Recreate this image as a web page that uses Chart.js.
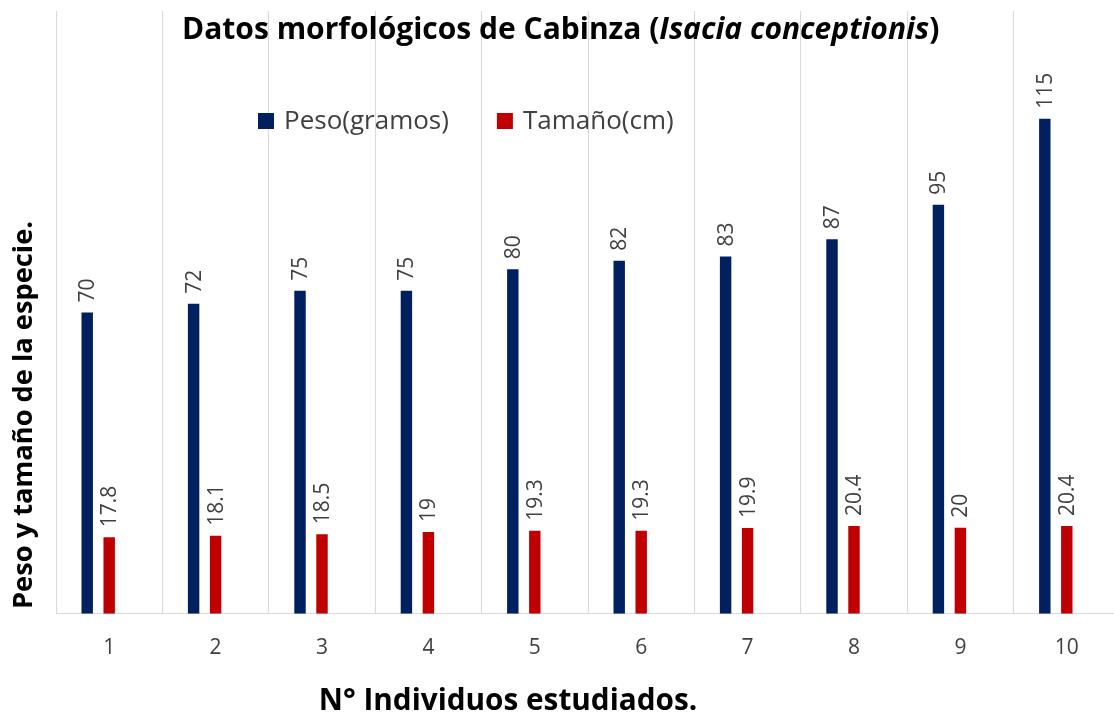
<!DOCTYPE html>
<html><head><meta charset="utf-8">
<script src="https://cdn.jsdelivr.net/npm/chart.js@4/dist/chart.umd.min.js"></script>
<style>html,body{margin:0;padding:0;overflow:hidden;background:#fff}#wrap{width:1120px;height:720px;position:relative}</style>
</head><body><div id="wrap"><canvas id="c" width="1120" height="720"></canvas></div>
<script>
// ---- data ----
const categories = ['1','2','3','4','5','6','7','8','9','10'];
const pesoGramos = [70, 72, 75, 75, 80, 82, 83, 87, 95, 115];
const tamanoCm = [17.8, 18.1, 18.5, 19, 19.3, 19.3, 19.9, 20.4, 20, 20.4];
const seriesNames = ['Peso(gramos)', 'Tamaño(cm)'];
const titleParts = [
  {text: 'Datos morfológicos de Cabinza (', style: 'bold'},
  {text: 'Isacia conceptionis', style: 'italic bold'},
  {text: ')', style: 'bold'}
];
const yTitle = 'Peso y tamaño de la especie.';
const xTitle = 'N° Individuos estudiados.';

const FAMILY = '"Open Sans", "DejaVu Sans", sans-serif';
const colors = ['#002060', '#C00000'];

function widthOf(ctx, parts, size) {
  let w = 0;
  for (const p of parts) { ctx.font = p.style + ' ' + size + 'px ' + FAMILY; w += ctx.measureText(p.text).width; }
  return w;
}
function fitSize(ctx, parts, target) {
  for (let s = 40; s > 6; s -= 0.25) { if (widthOf(ctx, parts, s) <= target) return s; }
  return 6;
}
function drawParts(ctx, parts, size, x, y) {
  for (const p of parts) {
    ctx.font = p.style + ' ' + size + 'px ' + FAMILY;
    ctx.fillText(p.text, x, y);
    x += ctx.measureText(p.text).width;
  }
}

const overlay = {
  id: 'overlay',
  afterDatasetsDraw(chart) {
    const ctx = chart.ctx;
    ctx.save();
    ctx.fillStyle = '#404040';
    ctx.font = '21px ' + FAMILY;
    ctx.textAlign = 'left';
    ctx.textBaseline = 'middle';
    for (let d = 0; d < 2; d++) {
      const meta = chart.getDatasetMeta(d);
      meta.data.forEach((el, i) => {
        const v = chart.data.datasets[d].data[i];
        if (v === null || v === undefined) return;
        ctx.save();
        ctx.translate(el.x + 1, el.y - 10);
        ctx.rotate(-Math.PI / 2);
        ctx.fillText(String(v), 0, 0);
        ctx.restore();
      });
    }
    ctx.restore();
  },
  afterDraw(chart) {
    const ctx = chart.ctx;
    ctx.save();
    ctx.textAlign = 'left';
    ctx.textBaseline = 'alphabetic';
    ctx.fillStyle = '#000';
    const ts = fitSize(ctx, titleParts, 763);
    drawParts(ctx, titleParts, ts, 182, 39);
    const lp = [{text: seriesNames[0], style: 'normal'}];
    const ls = fitSize(ctx, lp, 166);
    let x = 258;
    chart.data.datasets.slice(0, 2).forEach((ds, i) => {
      ctx.fillStyle = ds.backgroundColor;
      ctx.fillRect(x, 113, 16, 16);
      ctx.fillStyle = '#404040';
      ctx.font = 'normal ' + ls + 'px ' + FAMILY;
      ctx.fillText(ds.label, x + 26, 129);
      x += 26 + ctx.measureText(ds.label).width + 48;
    });
    ctx.fillStyle = '#000';
    const xp = [{text: xTitle, style: 'bold'}];
    const xs = fitSize(ctx, xp, 380);
    ctx.font = 'bold ' + xs + 'px ' + FAMILY;
    ctx.textAlign = 'center';
    ctx.fillText(xTitle, 508, 710);
    const yp = [{text: yTitle, style: 'bold'}];
    const ys = fitSize(ctx, yp, 390);
    ctx.font = 'bold ' + ys + 'px ' + FAMILY;
    ctx.translate(32, 415);
    ctx.rotate(-Math.PI / 2);
    ctx.fillText(yTitle, 0, 0);
    ctx.restore();
  }
};

new Chart(document.getElementById('c'), {
  type: 'bar',
  data: {
    labels: categories,
    datasets: [
      {label: seriesNames[0], data: pesoGramos, backgroundColor: colors[0]},
      {label: seriesNames[1], data: tamanoCm, backgroundColor: colors[1]},
      {label: '', data: categories.map(() => null), backgroundColor: 'rgba(0,0,0,0)'}
    ]
  },
  options: {
    responsive: false,
    animation: false,
    devicePixelRatio: 1,
    layout: {padding: {left: 56, top: 11, right: 0, bottom: 37}},
    datasets: {bar: {categoryPercentage: 0.62, barPercentage: 0.52}},
    plugins: {legend: {display: false}, title: {display: false}, tooltip: {enabled: false}},
    scales: {
      x: {
        offset: true,
        grid: {display: true, offset: true, color: '#d9d9d9', lineWidth: 1, drawTicks: false},
        border: {display: true, color: '#d9d9d9', width: 1},
        ticks: {padding: 22, color: '#404040', font: {size: 21, family: FAMILY}}
      },
      y: {display: false, min: 0, max: 140}
    }
  },
  plugins: [overlay]
});
</script>
</body></html>
